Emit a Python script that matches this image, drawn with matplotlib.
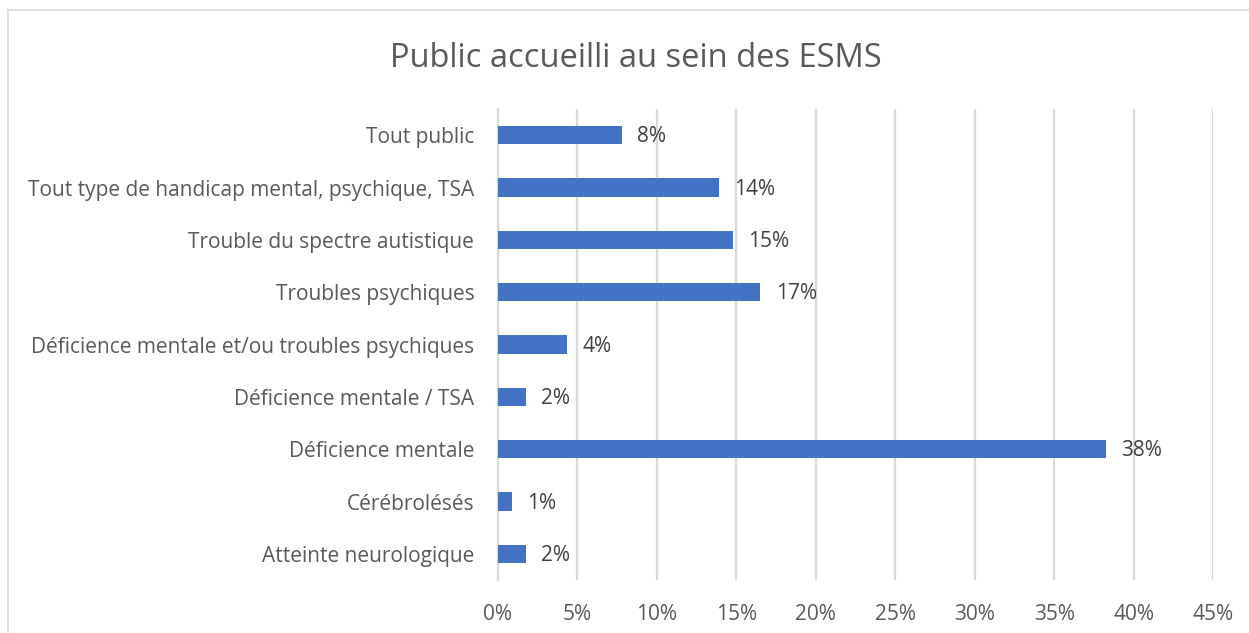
import matplotlib.pyplot as plt
from matplotlib.lines import Line2D

categories = [
    "Tout public",
    "Tout type de handicap mental, psychique, TSA",
    "Trouble du spectre autistique",
    "Troubles psychiques",
    "Déficience mentale et/ou troubles psychiques",
    "Déficience mentale / TSA",
    "Déficience mentale",
    "Cérébrolésés",
    "Atteinte neurologique",
]
# share of establishments, in percent
shares = [7.83, 13.91, 14.78, 16.52, 4.35, 1.74, 38.26, 0.87, 1.74]
ticks = [0, 5, 10, 15, 20, 25, 30, 35, 40, 45]

text_col = "#595959"
bar_col = "#4472C4"
grid_col = "#d9d9d9"

plt.rcParams["font.family"] = ["Open Sans", "DejaVu Sans"]

fig = plt.figure(figsize=(12.49, 6.33), dpi=100)
ax = fig.add_axes([0.3987, 0.0837, 0.5725, 0.744])

ypos = list(range(len(categories)))[::-1]
ax.barh(ypos, shares, height=0.35, color=bar_col, zorder=3)

for y, v in zip(ypos, shares):
    ax.text(v + 0.95, y - 0.03, f"{v:.0f}%", va="center", ha="left",
            fontsize=15, color="#404040")

ax.set_xlim(0, 45)
ax.set_ylim(-0.5, len(categories) - 0.5)
ax.set_xticks(ticks)
ax.set_xticklabels([f"{t}%" for t in ticks])
ax.set_yticks(ypos)
ax.set_yticklabels(categories)
ax.tick_params(axis="x", length=0, pad=17, labelsize=15, labelcolor=text_col)
ax.tick_params(axis="y", length=0, pad=17, labelsize=15, labelcolor=text_col)

ax.grid(axis="x", color=grid_col, linewidth=1.6, zorder=0)
for s in ["top", "right", "bottom"]:
    ax.spines[s].set_visible(False)
ax.spines["left"].set_color(grid_col)
ax.spines["left"].set_linewidth(1.6)

fig.text(0.509, 0.907, "Public accueilli au sein des ESMS", ha="center",
         va="center", fontsize=23.5, color=text_col)

# chart frame
fig.add_artist(Line2D([8 / 1249, 1], [1 - 10 / 633] * 2, color=grid_col,
                      linewidth=1.2, transform=fig.transFigure))
fig.add_artist(Line2D([8 / 1249] * 2, [0, 1 - 10 / 633], color=grid_col,
                      linewidth=1.2, transform=fig.transFigure))

fig.savefig("out.png", dpi=100, facecolor="white")
